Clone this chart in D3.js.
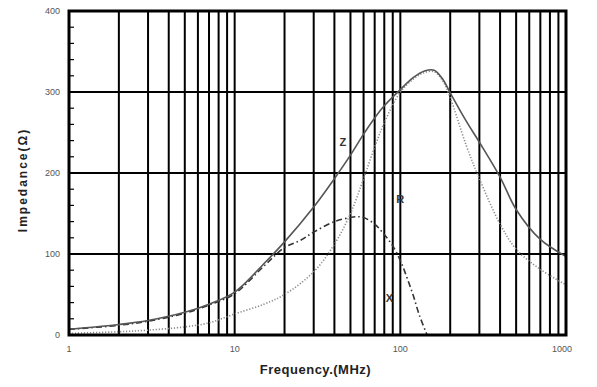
<!DOCTYPE html>
<html><head><meta charset="utf-8">
<script src="https://cdn.jsdelivr.net/npm/d3@7"></script>
<style>body{margin:0;background:#fff}svg{display:block}</style>
</head><body>
<svg id="c" width="597" height="387"></svg>
<script>
const freqZR = [1, 2, 3, 5, 7, 10, 15, 20, 30, 40, 50, 60, 70, 80, 100, 120, 140, 160, 180, 200, 250, 300, 400, 500, 700, 1000];
const zVals  = [7, 13, 18, 28, 38, 53, 88, 115, 158, 193, 222, 248, 268, 283, 303, 318, 326, 327, 316, 299, 264, 238, 195, 155, 118, 97];
const rVals  = [2, 4, 6, 10, 15, 26, 38, 50, 78, 112, 150, 193, 232, 262, 300, 316, 324, 325, 314, 293, 234, 193, 137, 106, 81, 62];
const freqX  = [1, 2, 3, 5, 7, 10, 15, 20, 25, 30, 40, 50, 55, 60, 70, 80, 90, 100, 110, 120, 130, 145];
const xVals  = [7, 12, 17, 27, 37, 51, 85, 108, 117, 127, 140, 145, 146, 145, 137, 124, 110, 92, 70, 48, 25, 0];
const xTicks = [1, 10, 100, 1000];
const yTicks = [0, 100, 200, 300, 400];
const curveLabels = [
  {text: "Z", f: 45, v: 238},
  {text: "R", f: 100, v: 168},
  {text: "X", f: 86, v: 46}
];

const W = 597, H = 387;
const m = {l: 69, r: 31, t: 11, b: 52};
const svg = d3.select("#c");
const x = d3.scaleLog().domain([1, 1000]).range([m.l, W - m.r]);
const y = d3.scaleLinear().domain([0, 400]).range([H - m.b, m.t]);

svg.append("defs").append("clipPath").attr("id", "clip")
  .append("rect").attr("x", m.l).attr("y", m.t).attr("width", W - m.l - m.r).attr("height", H - m.t - m.b);

// vertical grid lines (1..9 per decade)
const vgrid = [];
for (let d = 1; d <= 100; d *= 10) for (let k = 2; k <= 10; k++) { const v = d * k; if (v < 1000) vgrid.push(v); }
svg.append("g").selectAll("line").data(vgrid).join("line")
  .attr("x1", d => x(d)).attr("x2", d => x(d))
  .attr("y1", y(0)).attr("y2", y(400))
  .attr("stroke", "#000").attr("stroke-width", 2);
// horizontal grid lines
svg.append("g").selectAll("line").data([100, 200, 300]).join("line")
  .attr("x1", x(1)).attr("x2", x(1000))
  .attr("y1", d => y(d)).attr("y2", d => y(d))
  .attr("stroke", "#000").attr("stroke-width", 2);
// minor ticks on y
svg.append("g").selectAll("line").data(d3.range(20, 400, 20).filter(v => v % 100)).join("line")
  .attr("x1", x(1)).attr("x2", x(1) + 5)
  .attr("y1", d => y(d)).attr("y2", d => y(d))
  .attr("stroke", "#000").attr("stroke-width", 1.2);

// curves
const g = svg.append("g").attr("clip-path", "url(#clip)");
const line = d3.line().x(d => x(d[0])).y(d => y(d[1])).curve(d3.curveCatmullRom.alpha(0.5));
const zPts = freqZR.map((f, i) => [f, zVals[i]]);
const rPts = freqZR.map((f, i) => [f, rVals[i]]);
const xPts = freqX.map((f, i) => [f, xVals[i]]);
g.append("path").attr("d", line(rPts)).attr("fill", "none")
  .attr("stroke", "#8a8a8a").attr("stroke-width", 1.6).attr("stroke-dasharray", "1.2,1.8");
g.append("path").attr("d", line(xPts)).attr("fill", "none")
  .attr("stroke", "#333").attr("stroke-width", 1.6).attr("stroke-dasharray", "6,3,1.5,3");
g.append("path").attr("d", line(zPts)).attr("fill", "none")
  .attr("stroke", "#555").attr("stroke-width", 1.6);

// frame
svg.append("rect").attr("x", m.l).attr("y", m.t).attr("width", W - m.l - m.r).attr("height", H - m.t - m.b)
  .attr("fill", "none").attr("stroke", "#000").attr("stroke-width", 3);

// tick labels
const font = "'Liberation Sans', Arial, sans-serif";
svg.append("g").selectAll("text").data(yTicks).join("text")
  .attr("x", m.l - 9).attr("y", d => y(d)).attr("dy", "0.35em")
  .attr("text-anchor", "end").attr("font-family", font).attr("font-size", 9).attr("fill", "#555")
  .text(d => d);
svg.append("g").selectAll("text").data(xTicks).join("text")
  .attr("x", d => x(d)).attr("y", y(0) + 17)
  .attr("text-anchor", d => d === 1000 ? "end" : "middle")
  .attr("dx", d => d === 1000 ? 6 : 0)
  .attr("font-family", font).attr("font-size", 9).attr("fill", "#555")
  .text(d => d);

// axis titles
svg.append("text").attr("x", (m.l + W - m.r) / 2 - 2).attr("y", 374)
  .attr("text-anchor", "middle").attr("font-family", font).attr("font-size", 13)
  .attr("font-weight", "bold").attr("fill", "#222").attr("letter-spacing", 0.5)
  .text("Frequency.(MHz)");
svg.append("text").attr("transform", "translate(27,180) rotate(-90)")
  .attr("text-anchor", "middle").attr("font-family", font).attr("font-size", 12)
  .attr("font-weight", "bold").attr("fill", "#222").attr("letter-spacing", 2)
  .text("Impedance(Ω)");

// curve labels
svg.append("g").selectAll("text").data(curveLabels).join("text")
  .attr("x", d => x(d.f)).attr("y", d => y(d.v)).attr("dy", "0.35em")
  .attr("text-anchor", "middle").attr("font-family", font).attr("font-size", 11)
  .attr("font-weight", "bold").attr("fill", "#333")
  .text(d => d.text);
</script>
</body></html>
